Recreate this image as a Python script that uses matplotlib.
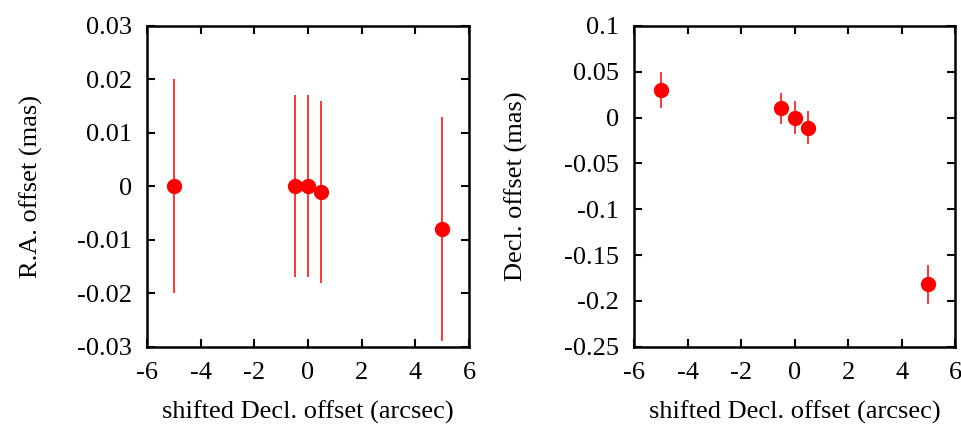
import matplotlib
matplotlib.use("Agg")
import matplotlib.pyplot as plt

plt.rcParams["font.family"] = ["Liberation Serif", "DejaVu Serif"]
plt.rcParams["font.size"] = 19

# data
x = [-5, -0.5, 0, 0.5, 5]
ra = [0, 0, 0, -0.001, -0.008]
ra_err = [0.02, 0.017, 0.017, 0.017, 0.021]
dec = [0.03, 0.01, 0, -0.011, -0.182]
dec_err = [0.02, 0.017, 0.018, 0.018, 0.021]

xticks = [-6, -4, -2, 0, 2, 4, 6]
ra_ticks = [-0.03, -0.02, -0.01, 0, 0.01, 0.02, 0.03]
ra_labels = ["-0.03", "-0.02", "-0.01", "0", "0.01", "0.02", "0.03"]
dec_ticks = [-0.25, -0.2, -0.15, -0.1, -0.05, 0, 0.05, 0.1]
dec_labels = ["-0.25", "-0.2", "-0.15", "-0.1", "-0.05", "0", "0.05", "0.1"]

fig = plt.figure(figsize=(9.61, 4.25), dpi=100)
ax1 = fig.add_axes([0.153, 0.184, 0.335, 0.755])
ax2 = fig.add_axes([0.660, 0.184, 0.334, 0.755])

for ax, y, e in [(ax1, ra, ra_err), (ax2, dec, dec_err)]:
    ax.errorbar(x, y, yerr=e, fmt="o", color="red", ms=10, elinewidth=1.1, capsize=0)
    ax.set_xlim(-6, 6)
    ax.set_xticks(xticks)
    ax.set_xticklabels([str(t) for t in xticks])
    ax.tick_params(direction="in", top=True, right=True, length=6, width=1.5)
    ax.tick_params(axis="y", pad=11)
    ax.tick_params(axis="x", pad=11)
    for s in ax.spines.values():
        s.set_linewidth(1.8)
    ax.set_xlabel("shifted Decl. offset (arcsec)", labelpad=12)

ax1.set_ylim(-0.03, 0.03)
ax1.set_yticks(ra_ticks)
ax1.set_yticklabels(ra_labels)
ax1.set_ylabel("R.A. offset (mas)", labelpad=24)

ax2.set_ylim(-0.25, 0.1)
ax2.set_yticks(dec_ticks)
ax2.set_yticklabels(dec_labels)
ax2.set_ylabel("Decl. offset (mas)", labelpad=26)

fig.savefig("out.png", dpi=100)
